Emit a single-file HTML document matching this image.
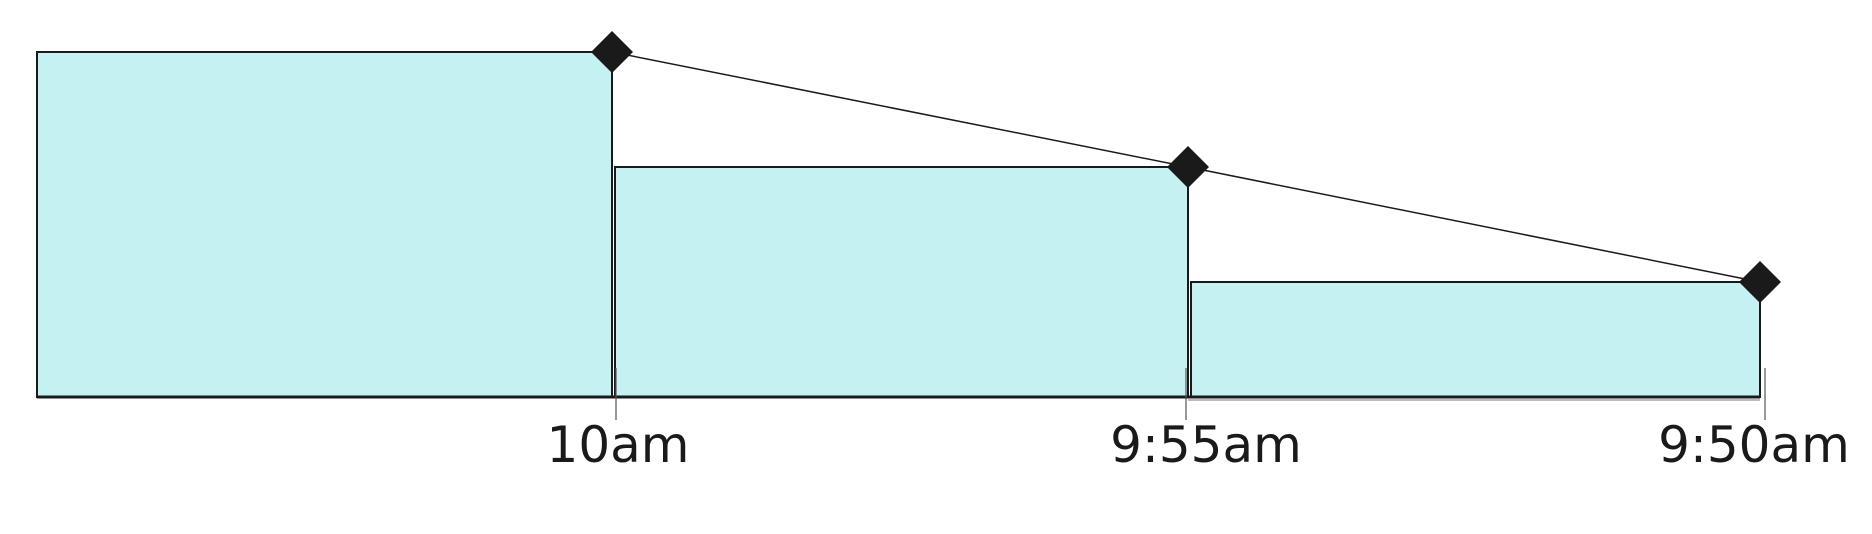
<!DOCTYPE html>
<html><head><meta charset="utf-8"><style>
html,body{margin:0;padding:0;background:#fff;}
svg{display:block;}
text{font-family:"DejaVu Sans","Liberation Sans",sans-serif;fill:#1a1a1a;}
</style></head><body>
<svg id="chart" width="1872" height="534" viewBox="0 0 1872 534" xmlns="http://www.w3.org/2000/svg"></svg>
<script>
const categories = ["10am", "9:55am", "9:50am"];
const values = [30, 20, 10];
const tickLabels = ["10am", "9:55am", "9:50am"];

const NS = "http://www.w3.org/2000/svg";
const svg = document.getElementById("chart");
const baseY = 397, unit = 11.5;
const edges = [37, 612, 1188, 1760];
function yScale(v){ return baseY - v*unit; }
function xRight(i){ return edges[i+1]; }
function xLeft(i){ return edges[i] + (i>0 ? 3 : 0); }
function mk(tag, attrs){ const e=document.createElementNS(NS,tag); for(const k in attrs) e.setAttribute(k,attrs[k]); svg.appendChild(e); return e; }

values.forEach((v,i)=>{
  const r = mk("rect",{x:xLeft(i),y:yScale(v),width:xRight(i)-xLeft(i),height:baseY-yScale(v),fill:"#c4f2f3",stroke:"#1a1a1a","stroke-width":2});
  
  
});
const base = mk("line",{x1:37,y1:baseY,x2:1760,y2:baseY,stroke:"#1a1a1a","stroke-width":3});


const base2 = mk("line",{x1:1188,y1:baseY+3,x2:1760,y2:baseY+3,stroke:"#777","stroke-width":1});



const pts = values.map((v,i)=>[xRight(i), yScale(v)]);
const line = mk("polyline",{points:pts.map(p=>p.join(",")).join(" "),fill:"none",stroke:"#1a1a1a","stroke-width":1.5});


pts.forEach((p,i)=>{
  const d=21;
  const m = mk("polygon",{points:`${p[0]},${p[1]-d} ${p[0]+d},${p[1]} ${p[0]},${p[1]+d} ${p[0]-d},${p[1]}`,fill:"#1a1a1a"});
  
  
});
const tickX = [616, 1186, 1765];
const labelX = [618, 1206, 1754];
tickLabels.forEach((t,i)=>{
  const tk = mk("line",{x1:tickX[i],y1:368,x2:tickX[i],y2:420,stroke:"#555","stroke-width":1.2});
  
  
  const tx = mk("text",{x:labelX[i],y:462,"text-anchor":"middle","font-size":50});
  tx.textContent = t;
  
  
});
</script>
</body></html>
